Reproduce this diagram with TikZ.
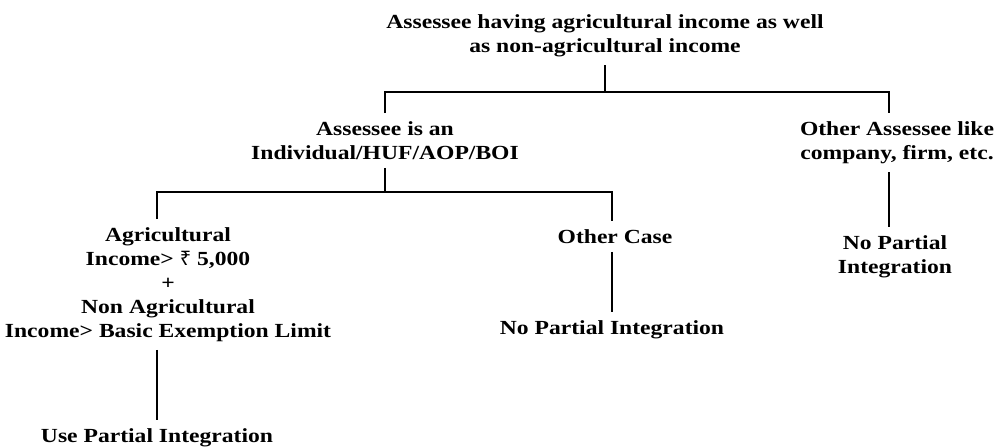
\documentclass[tikz,border=0pt]{standalone}
\usepackage{fontspec}
\setmainfont{Liberation Serif}[FakeStretch=1.18]
\newfontfamily\rupeefont{Noto Sans}

\begin{document}
\begin{tikzpicture}[x=0.5pt,y=-0.5pt,
		txt/.style={align=center,inner xsep=0pt,inner ysep=4pt,anchor=north,
			font=\fontsize{10}{12}\selectfont\bfseries},
		link/.style={line width=1pt}]
	\useasboundingbox (0,0) rectangle (1000,446);
	% levels of the tree
	\node[txt] (top) at (605,6) {Assessee having agricultural income as well\\as non-agricultural income};
	\node[txt] (indiv) at (385,113) {Assessee is an\\Individual/HUF/AOP/BOI};
	\node[txt] (other) at (897,113) {Other Assessee like\\company, firm, etc.};
	\node[txt] (agri) at (168,219) {Agricultural\\Income> {\rupeefont ₹} 5,000\\+\\Non Agricultural\\Income> Basic Exemption Limit};
	\node[txt] (othercase) at (615,221) {Other Case};
	\node[txt] (nopartmid) at (612,312) {No Partial Integration};
	\node[txt] (nopartright) at (895,227) {No Partial\\Integration};
	\node[txt] (use) at (157,420) {Use Partial Integration};
	% joints of the bars
	\coordinate (jr) at (889,92);
	\coordinate (ki) at (385,192);
	\coordinate (kr) at (612,192);
	\draw[link] (top.south) -- (top.south |- jr);
	\draw[link] (indiv.north) |- (jr) -- (jr |- other.north);
	\draw[link] (indiv.south) -- (ki);
	\draw[link] (agri.north -| use) |- (kr) -- (kr |- othercase.north);
	\draw[link] (othercase.south -| kr) -- (nopartmid.north -| kr);
	\draw[link] (agri.south -| use) -- (use.north);
	\draw[link] (other.south -| jr) -- (nopartright.north -| jr);
\end{tikzpicture}
\end{document}
